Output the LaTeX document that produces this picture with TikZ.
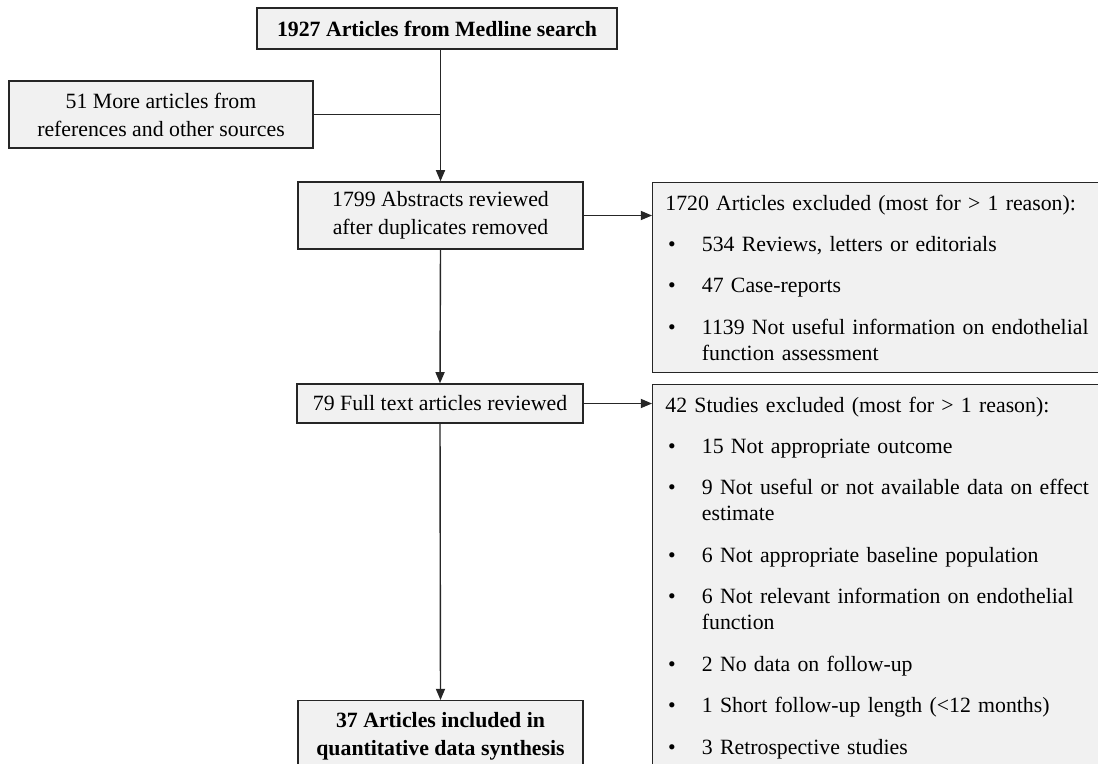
\documentclass[tikz,border=0pt]{standalone}
\usepackage{fontspec}
\setmainfont{Liberation Serif}
\usetikzlibrary{arrows.meta}
\definecolor{boxfill}{HTML}{F1F1F1}
\definecolor{boxline}{HTML}{262626}
\tikzset{
  flowbox/.style={draw=boxline, fill=boxfill, line width=1pt, align=center, inner sep=0pt,
    font=\fontsize{15.5}{20}\selectfont},
  exclbox/.style={draw=boxline, fill=boxfill, line width=1pt, anchor=north west, align=left,
    text width=313pt, inner xsep=9pt, inner ysep=8.5pt, font=\fontsize{15.5}{18.5}\selectfont},
  flowarrow/.style={-{Triangle[length=8pt,width=6.5pt]}, line width=1pt, draw=boxline}
}
\newcommand{\bul}{\makebox[26pt][l]{\hspace{2pt}\textbullet}}
\newcommand{\cont}{\hspace*{26pt}}

\begin{document}
\begin{tikzpicture}[x=0.025cm,y=-0.025cm]
\useasboundingbox (0,0) rectangle (1098,763);
\clip (0,0) rectangle (1098,763);

% --- main column
\node[flowbox, font=\fontsize{15.5}{20}\selectfont\bfseries, minimum width=9cm, minimum height=1.025cm]
  (medline) at (437,28.5) {1927 Articles from Medline search};
\node[flowbox, minimum width=7.6cm, minimum height=1.675cm]
  (other) at (161,114.5) {51 More articles from\\references and other sources};
\node[flowbox, minimum width=7.125cm, minimum height=1.675cm]
  (abstracts) at (440.5,215.5) {1799 Abstracts reviewed\\after duplicates removed};
\node[flowbox, minimum width=7.15cm, minimum height=0.975cm]
  (fulltext) at (440,403.5) {79 Full text articles reviewed};
\node[flowbox, font=\fontsize{15.5}{20}\selectfont\bfseries, minimum width=7.125cm, inner ysep=8pt, anchor=north]
  (included) at (440.5,700) {37 Articles included in\\quantitative data synthesis\\[14pt]\mbox{}};

% --- exclusion boxes
\node[exclbox] (exclone) at (652,182) {1720 Articles excluded (most for > 1 reason):\\[11pt]
\bul 534 Reviews, letters or editorials\\[11pt]
\bul 47 Case-reports\\[11pt]
\bul 1139 Not useful information on endothelial\\
\cont function assessment};
\node[exclbox] (excltwo) at (652,384) {42 Studies excluded (most for > 1 reason):\\[11pt]
\bul 15 Not appropriate outcome\\[11pt]
\bul 9 Not useful or not available data on effect\\
\cont estimate\\[11pt]
\bul 6 Not appropriate baseline population\\[11pt]
\bul 6 Not relevant information on endothelial\\
\cont function\\[11pt]
\bul 2 No data on follow-up\\[11pt]
\bul 1 Short follow-up length (<12 months)\\[11pt]
\bul 3 Retrospective studies\\[30pt]\mbox{}};

% --- connectors
\draw[flowarrow] (medline.south -| abstracts.north) -- (abstracts.north);
\draw[line width=1pt, draw=boxline] (other.east) -- (other.east -| abstracts.north);
\draw[flowarrow] (abstracts.south) -- (fulltext.north);
\draw[flowarrow] (fulltext.south) -- (included.north);
\draw[flowarrow] (abstracts.east) -- (abstracts.east -| exclone.west);
\draw[flowarrow] (fulltext.east) -- (fulltext.east -| excltwo.west);
\end{tikzpicture}
\end{document}
